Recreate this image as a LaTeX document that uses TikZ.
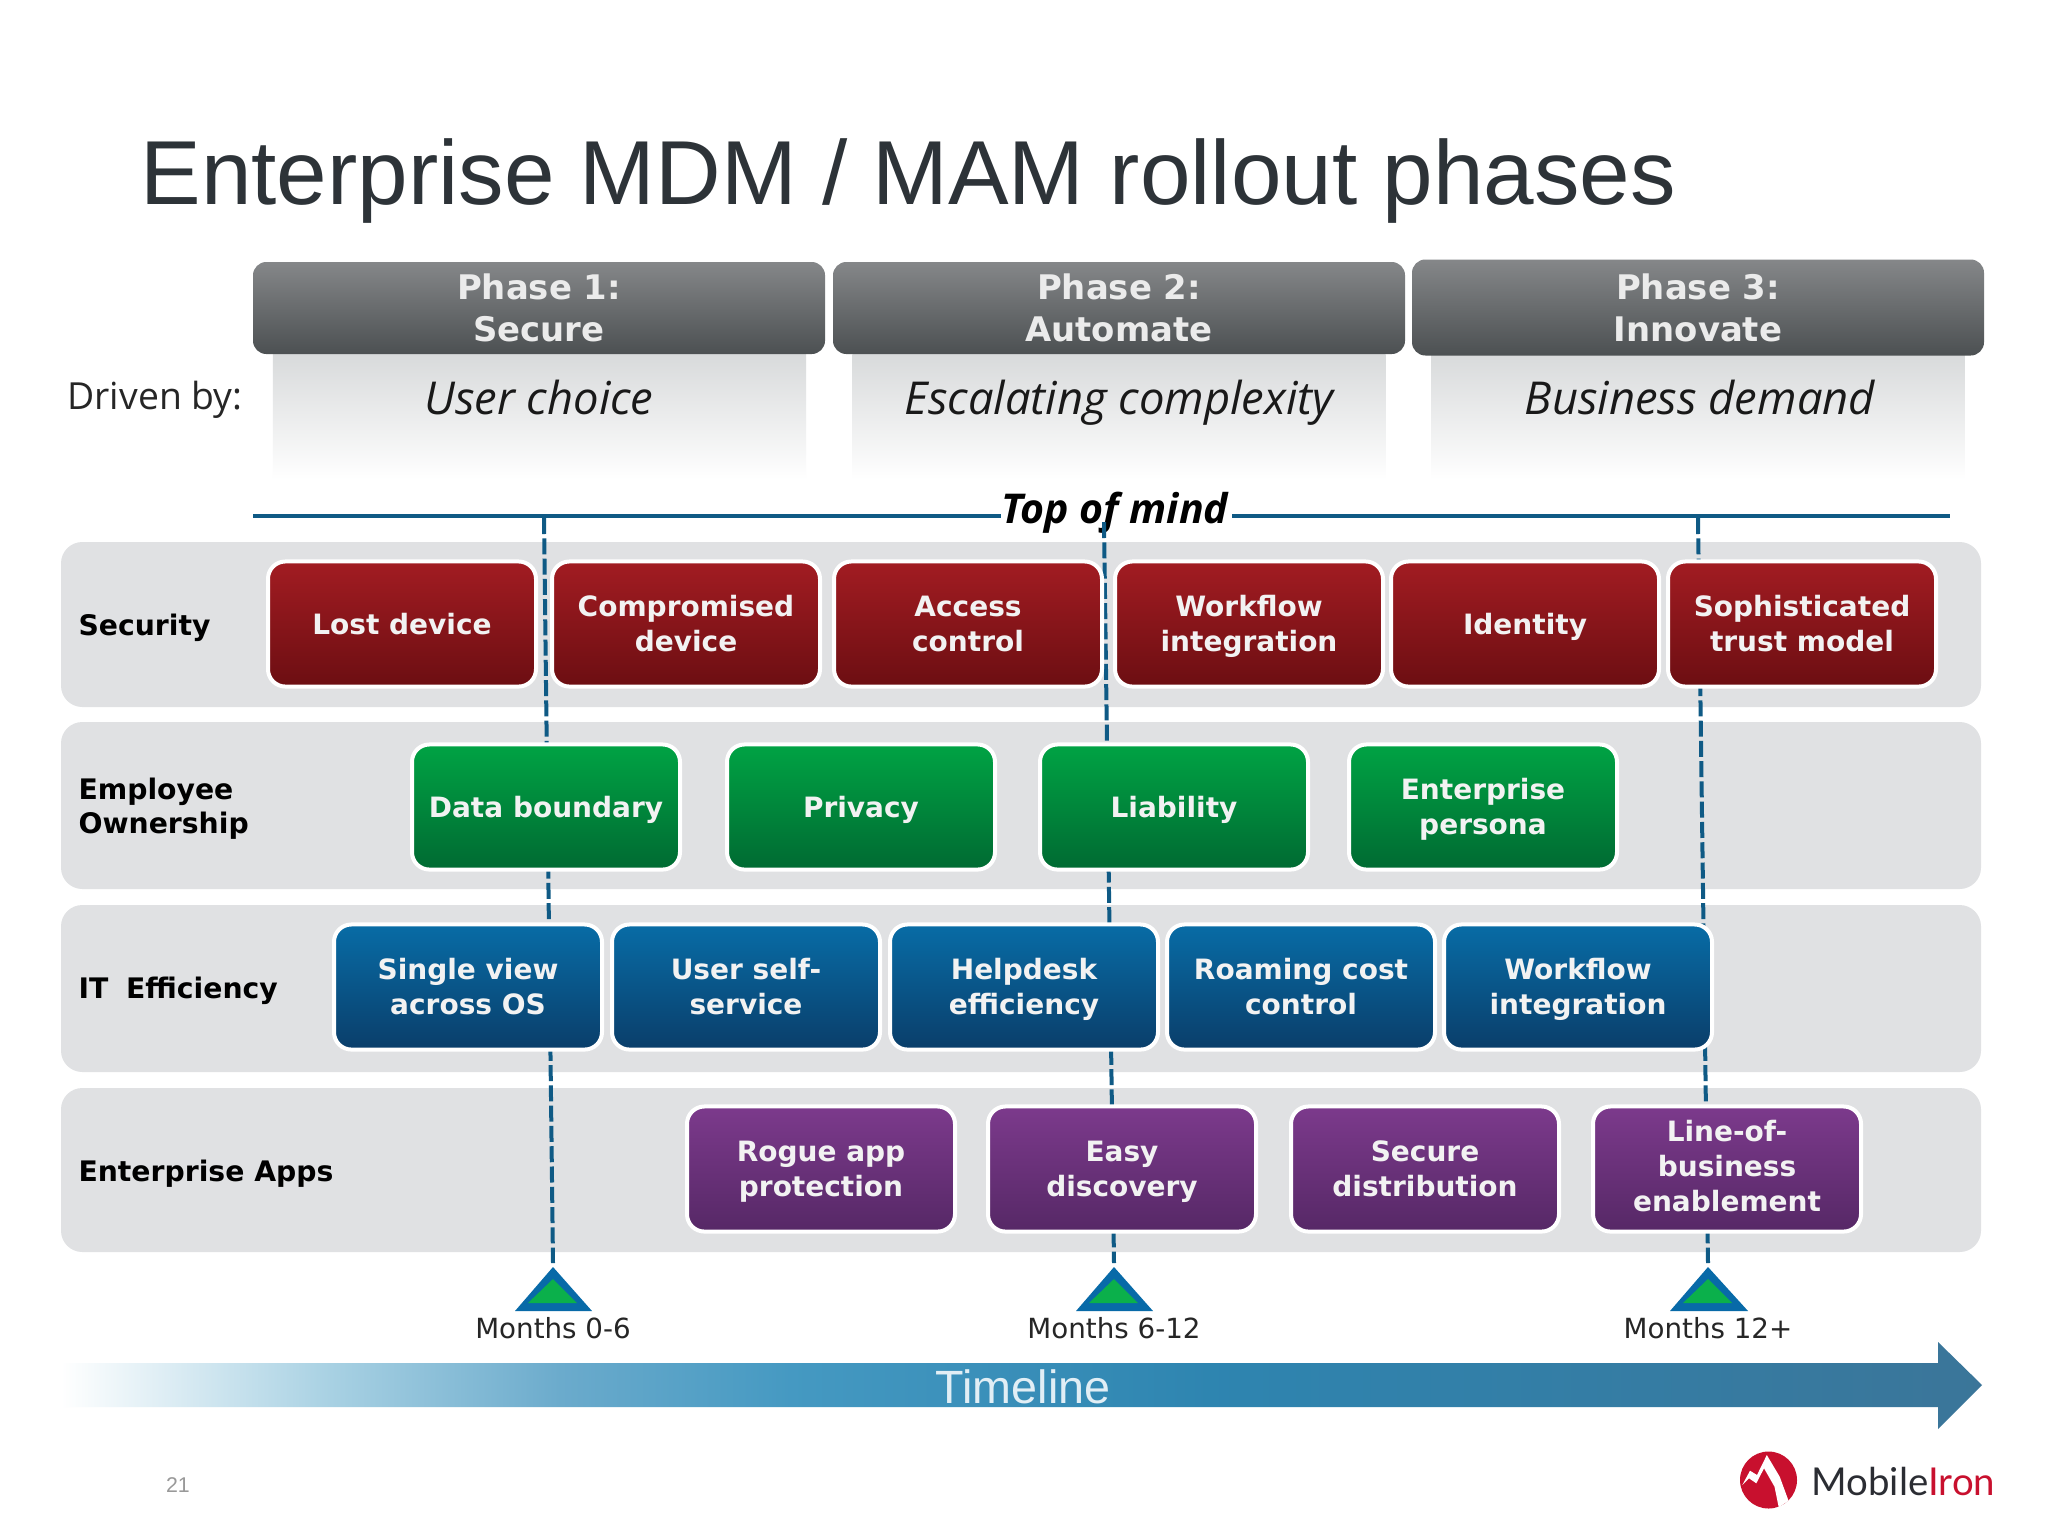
\documentclass[tikz,border=0pt]{standalone}
\usepackage{fontspec}
\setmainfont{Liberation Sans}
\newfontfamily\vfont{DejaVu Sans}
\newfontfamily\tfont{Open Sans}
\newfontfamily\lfont{Lato}
\definecolor{dashc}{HTML}{0F5A85}
\definecolor{bandc}{HTML}{E0E1E3}
\definecolor{titlec}{HTML}{2D3338}
\definecolor{phtop}{HTML}{858789}
\definecolor{phbot}{HTML}{4C5052}
\definecolor{fadec}{HTML}{D8DADB}
\definecolor{redt}{HTML}{A21C22}
\definecolor{redb}{HTML}{6C0E12}
\definecolor{grnt}{HTML}{00A344}
\definecolor{grnb}{HTML}{006A32}
\definecolor{blut}{HTML}{086CA6}
\definecolor{blub}{HTML}{0A3E6A}
\definecolor{purt}{HTML}{7C3A8C}
\definecolor{purb}{HTML}{562866}
\definecolor{trib}{HTML}{086AA8}
\definecolor{trig}{HTML}{0BB04B}
\definecolor{tlinec}{HTML}{E1EEF5}
\definecolor{logor}{HTML}{C8102E}
\definecolor{logod}{HTML}{2B2D33}
\pgfdeclarehorizontalshading{tlshade}{100bp}{
 rgb(0bp)=(1,1,1); rgb(25bp)=(1,1,1);
 rgb(32bp)=(0.66,0.82,0.89);
 rgb(38bp)=(0.42,0.67,0.80);
 rgb(44bp)=(0.27,0.60,0.76);
 rgb(55bp)=(0.18,0.52,0.69);
 rgb(75bp)=(0.23,0.46,0.60);
 rgb(100bp)=(0.23,0.46,0.60)}
\tikzset{
 band/.style={fill=bandc,draw=none,rounded corners=8pt},
 phase/.style={minimum width=214.5pt,minimum height=34.5pt,inner sep=0pt,rounded corners=5pt,top color=phtop,bottom color=phbot,align=center,text=white!92!black,font=\vfont\bfseries\fontsize{12.7}{15.8}\selectfont},
 fade/.style={draw=none,top color=fadec,bottom color=white,minimum width=200pt,minimum height=47pt,inner sep=0pt},
 driver/.style={anchor=base,inner sep=0pt,font=\tfont\itshape\fontsize{17}{20}\selectfont,text=black!90},
 box/.style={minimum width=100.5pt,minimum height=46.9pt,inner sep=0pt,rounded corners=6.5pt,draw=white,line width=1.5pt,align=center,text=white!95!black,font=\vfont\bfseries\fontsize{10.5}{13.1}\selectfont,text height=9.8pt,text depth=2.2pt},
 two/.style={text height=22.8pt,text depth=2.2pt},
 three/.style={text height=34.2pt,text depth=2.2pt},
 redbox/.style={box,top color=redt,bottom color=redb},
 greenbox/.style={box,top color=grnt,bottom color=grnb},
 bluebox/.style={box,top color=blut,bottom color=blub},
 purplebox/.style={box,top color=purt,bottom color=purb},
 rowl/.style={anchor=west,inner sep=0pt,align=left,text=black,font=\vfont\bfseries\fontsize{10.6}{12.9}\selectfont,execute at begin node=\vphantom{Ag},execute at end node=\vphantom{g}},
 dashl/.style={draw=dashc,line width=1.5pt,dash pattern=on 6pt off 1.6pt},
 topl/.style={draw=dashc,line width=1.5pt},
 month/.style={inner sep=0pt,text=black!85,font=\vfont\fontsize{10.4}{12}\selectfont},
 tri/.style={fill=trib,draw=none},
 trii/.style={fill=trig,draw=none}
}
\begin{document}
\begin{tikzpicture}[x=0.375pt,y=-0.375pt]
\useasboundingbox (0,0) rectangle (2048,1536);
\fill[white] (0,0) rectangle (2048,1536);
% title
\node[anchor=base west,inner sep=0pt,text=titlec,font=\fontsize{34.08}{38}\selectfont] (title) at (140,204) {Enterprise MDM / MAM rollout phases};
% fades
\node[fade] (f1) at (539.5,417) {};
\node[fade] (f2) at (1119,417) {};
\node[fade] (f3) at (1698,417) {};
% phases
\node[phase] (p1) at (539,308) {Phase 1:\\Secure};
\node[phase] (p2) at (1119,308) {Phase 2:\\Automate};
\node[phase,minimum height=36pt] (p3) at (1698,307.5) {Phase 3:\\Innovate};
% drivers
\node[inner sep=0pt,anchor=west,text=black!85,font=\tfont\fontsize{14}{16}\selectfont] (driven) at (67,400) {Driven by:};
\node[driver] (d1) at (539,414) {User choice};
\node[driver] (d2) at (1119,414) {Escalating complexity};
\node[driver] (d3) at (1700,414) {Business demand};
% bands
\path[band] (61,542) rectangle (1981,707);
\path[band] (61,722) rectangle (1981,889);
\path[band] (61,905) rectangle (1981,1072);
\path[band] (61,1088) rectangle (1981,1252);
% top of mind
\node[anchor=base,inner sep=0pt,text=black,font=\tfont\bfseries\itshape\fontsize{15.4}{18}\selectfont] (top) at (1115,523) {Top of mind};
\coordinate (tl) at (253,516);
\coordinate (tr) at (1950,516);
\coordinate (tla) at (1001,516);
\coordinate (tra) at (1232,516);
\draw[topl] (tl) -- (tla);
\draw[topl] (tra) -- (tr);
% triangles
\coordinate (a1) at (544,518);
\coordinate (a2) at (1104,522);
\coordinate (a3) at (1698,518);
\path[tri] (553,1267) -- (592,1311) -- (515,1311) -- cycle;
\path[trii] (553,1279) -- (577,1303) -- (528,1303) -- cycle;
\path[tri] (1114,1267) -- (1153,1311) -- (1076,1311) -- cycle;
\path[trii] (1114,1279) -- (1138,1303) -- (1089,1303) -- cycle;
\path[tri] (1708,1267) -- (1748,1311) -- (1670,1311) -- cycle;
\path[trii] (1708,1279) -- (1732,1303) -- (1683,1303) -- cycle;
\coordinate (m1) at (553,1263);
\coordinate (m2) at (1114,1263);
\coordinate (m3) at (1708,1263);
\draw[dashl] (a1) -- (m1);
\draw[dashl] (a2) -- (m2);
\draw[dashl] (a3) -- (m3);
% rows labels
\node[rowl] (r1) at (78,627.5) {Security};
\node[rowl] (r2) at (78,808.5) {Employee\\Ownership};
\node[rowl] (r3) at (78,991) {IT\hspace{3pt} Efficiency};
\node[rowl] (r4) at (78,1173.5) {Enterprise Apps};
% boxes
\node[redbox] (s1) at (402,624) {Lost device};
\node[redbox,two] (s2) at (686,624) {Compromised\\device};
\node[redbox,two] (s3) at (968,624) {Access\\control};
\node[redbox,two] (s4) at (1249,624) {Workflow\\integration};
\node[redbox] (s5) at (1525,624) {Identity};
\node[redbox,two] (s6) at (1802,624) {Sophisticated\\trust model};
\node[greenbox] (e1) at (546,807) {Data boundary};
\node[greenbox] (e2) at (861,807) {Privacy};
\node[greenbox] (e3) at (1174,807) {Liability};
\node[greenbox,two] (e4) at (1483,807) {Enterprise\\persona};
\node[bluebox,two] (i1) at (468,987) {Single view\\across OS};
\node[bluebox,two] (i2) at (746,987) {User self-\\service};
\node[bluebox,two] (i3) at (1024,987) {Helpdesk\\efficiency};
\node[bluebox,two] (i4) at (1301,987) {Roaming cost\\control};
\node[bluebox,two] (i5) at (1578,987) {Workflow\\integration};
\node[purplebox,two] (a-1) at (821,1169) {Rogue app\\protection};
\node[purplebox,two] (a-2) at (1122,1169) {Easy\\discovery};
\node[purplebox,two] (a-3) at (1425,1169) {Secure\\distribution};
\node[purplebox,three] (a-4) at (1727,1169) {Line-of-\\business\\enablement};
% months
\node[month] (mo1) at (553,1328) {Months 0-6};
\node[month] (mo2) at (1114,1328) {Months 6-12};
\node[month] (mo3) at (1708,1328) {Months 12+};
% timeline
\path[shading=tlshade] (61,1363) -- (1938,1363) -- (1938,1342) -- (1982,1385) -- (1938,1429) -- (1938,1407) -- (61,1407) -- cycle;
\node[inner sep=0pt,text=tlinec,font=\fontsize{17.5}{20}\selectfont] (tline) at (1023,1387) {Timeline};
% page number
\node[inner sep=0pt,text=black!40,font=\fontsize{8}{10}\selectfont] (num) at (178,1485) {21};
% logo
\fill[logor] (1768.5,1480) circle[radius=28.5];
\fill[white] (1742.3,1485) -- (1750,1470.7) -- (1757,1475) -- (1766.8,1455) -- (1779.7,1476.7) -- (1788.5,1500.7) -- (1778.7,1507.3) -- (1774.5,1486.7) -- (1764,1468.3) -- (1756.3,1483.3) -- (1749,1478.3) -- cycle;
\node[anchor=base west,inner sep=0pt,font=\lfont\fontsize{14.4}{17}\selectfont] (logo) at (1811,1495) {\textcolor{logod}{Mobile}\textcolor{logor}{Iron}};
\end{tikzpicture}
\end{document}
